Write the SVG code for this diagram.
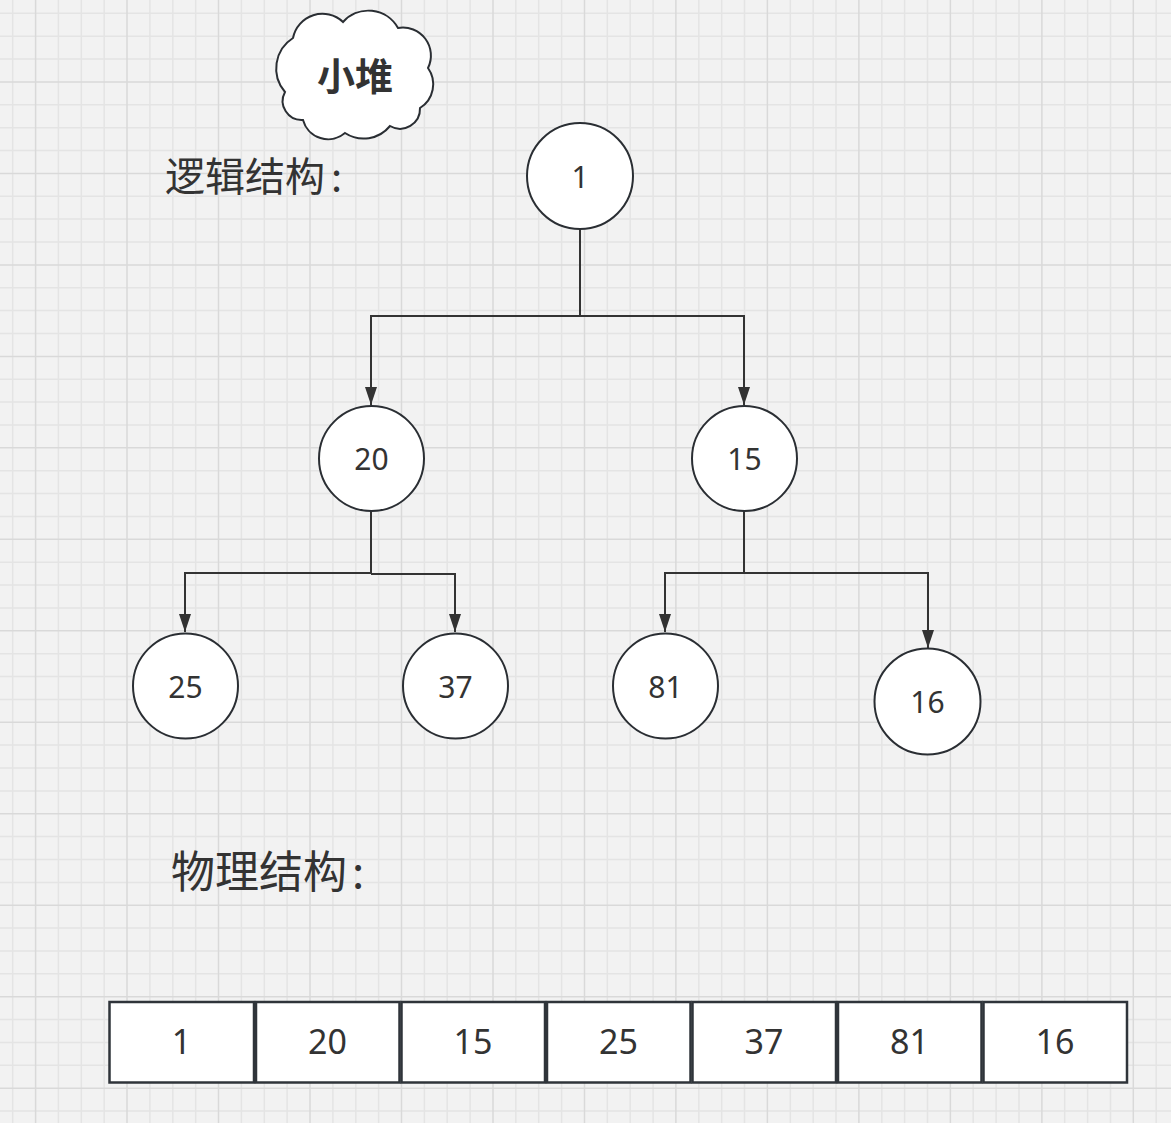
<svg xmlns="http://www.w3.org/2000/svg" width="1171" height="1123" viewBox="0 0 1171 1123">
<defs>
<style>
.bg{fill:#f2f2f2}
.gmin{stroke:#e4e4e4;stroke-width:1.5;fill:none}
.gmaj{stroke:#d9d9d9;stroke-width:1.5;fill:none}
.node circle{fill:#ffffff;stroke:#2a2e33;stroke-width:2}
.cell rect{fill:#ffffff;stroke:#2f343a;stroke-width:2.5}
.num{font-family:"Noto Sans","Noto Sans CJK SC",sans-serif;fill:#333333;text-anchor:middle}
.lbl{font-family:"Noto Sans CJK SC","Noto Sans",sans-serif;fill:#333333}
.edge{fill:none;stroke:#333333;stroke-width:2;marker-end:url(#arr)}
.seg{fill:none;stroke:#333333;stroke-width:2}
</style>
<marker id="arr" markerUnits="userSpaceOnUse" markerWidth="20" markerHeight="14" refX="18" refY="6" orient="auto">
<path d="M0,0 L18,6 L0,12 Z" fill="#333333"/>
</marker>
</defs>
<rect class="bg" x="0" y="0" width="1171" height="1123"/>
<g id="grid">
<path class="gmin" d="M12.7 0V1123M58.4 0V1123M81.3 0V1123M104.2 0V1123M149.9 0V1123M172.8 0V1123M195.7 0V1123M241.4 0V1123M264.3 0V1123M287.1 0V1123M332.9 0V1123M355.8 0V1123M378.6 0V1123M424.4 0V1123M447.2 0V1123M470.1 0V1123M515.8 0V1123M538.7 0V1123M561.6 0V1123M607.3 0V1123M630.2 0V1123M653.1 0V1123M698.8 0V1123M721.7 0V1123M744.5 0V1123M790.3 0V1123M813.2 0V1123M836 0V1123M881.8 0V1123M904.6 0V1123M927.5 0V1123M973.2 0V1123M996.1 0V1123M1019 0V1123M1064.7 0V1123M1087.6 0V1123M1110.5 0V1123M1156.2 0V1123M0 13.3H1171M0 36.2H1171M0 59H1171M0 104.8H1171M0 127.7H1171M0 150.5H1171M0 196.3H1171M0 219.1H1171M0 242H1171M0 287.7H1171M0 310.6H1171M0 333.5H1171M0 379.2H1171M0 402.1H1171M0 425H1171M0 470.7H1171M0 493.6H1171M0 516.4H1171M0 562.2H1171M0 585H1171M0 607.9H1171M0 653.7H1171M0 676.5H1171M0 699.4H1171M0 745.1H1171M0 768H1171M0 790.9H1171M0 836.6H1171M0 859.5H1171M0 882.4H1171M0 928.1H1171M0 951H1171M0 973.8H1171M0 1019.6H1171M0 1042.5H1171M0 1065.3H1171M0 1111.1H1171"/>
<path class="gmaj" d="M35.6 0V1123M127 0V1123M218.5 0V1123M310 0V1123M401.5 0V1123M493 0V1123M584.5 0V1123M675.9 0V1123M767.4 0V1123M858.9 0V1123M950.4 0V1123M1041.9 0V1123M1133.3 0V1123M0 81.9H1171M0 173.4H1171M0 264.9H1171M0 356.4H1171M0 447.8H1171M0 539.3H1171M0 630.8H1171M0 722.3H1171M0 813.8H1171M0 905.2H1171M0 996.7H1171M0 1088.2H1171"/>
</g>
<g id="title-cloud">
<path d="M293,38 A30,30 0 0 1 343,22 A34,34 0 0 1 398,28 A28,28 0 0 1 428,68 A28,28 0 0 1 420,108 A20,20 0 0 1 390,126 A34,34 0 0 1 345,133 A26,26 0 0 1 303,120 A19,19 0 0 1 285,92 A36,36 0 0 1 293,38 Z" fill="#ffffff" stroke="#2a2e33" stroke-width="2"/>
<text class="lbl" x="355" y="90" font-size="38" font-weight="700" text-anchor="middle">小堆</text>
</g>
<g id="label-logic">
<text class="lbl" x="165" y="191" font-size="40">逻辑结构<tspan dx="6">:</tspan></text>
</g>
<g id="label-physical">
<text class="lbl" x="171" y="888" font-size="44">物理结构<tspan dx="5">:</tspan></text>
</g>
<g id="connectors">
<path class="edge" d="M580,229 V316 H371 V405"/>
<path class="edge" d="M580,316 H744 V405"/>
<path class="edge" d="M371,511 V573 H185 V632"/>
<path class="edge" d="M371,574 H455 V632"/>
<path class="edge" d="M744,511 V573 H665 V632"/>
<path class="edge" d="M744,573 H928 V648"/>
</g>
<g id="node-1" class="node"><circle cx="580" cy="176" r="53"/><text class="num" x="580" y="188" font-size="30">1</text></g>
<g id="node-20" class="node"><circle cx="371.5" cy="458.5" r="52.5"/><text class="num" x="371.5" y="470" font-size="30">20</text></g>
<g id="node-15" class="node"><circle cx="744.5" cy="458.5" r="52.5"/><text class="num" x="744.5" y="470" font-size="30">15</text></g>
<g id="node-25" class="node"><circle cx="185.5" cy="686" r="52.5"/><text class="num" x="185.5" y="697.5" font-size="30">25</text></g>
<g id="node-37" class="node"><circle cx="455.5" cy="686" r="52.5"/><text class="num" x="455.5" y="697.5" font-size="30">37</text></g>
<g id="node-81" class="node"><circle cx="665.5" cy="686" r="52.5"/><text class="num" x="665.5" y="697.5" font-size="30">81</text></g>
<g id="node-16" class="node"><circle cx="927.5" cy="701.5" r="53"/><text class="num" x="927.5" y="713" font-size="30">16</text></g>
<g id="array">
<g id="cell-0" class="cell"><rect x="109.5" y="1002" width="144.5" height="80.5"/><text class="num" x="181.5" y="1054" font-size="34">1</text></g>
<g id="cell-1" class="cell"><rect x="256" y="1002" width="143.5" height="80.5"/><text class="num" x="327.5" y="1054" font-size="34">20</text></g>
<g id="cell-2" class="cell"><rect x="401.5" y="1002" width="143.5" height="80.5"/><text class="num" x="473" y="1054" font-size="34">15</text></g>
<g id="cell-3" class="cell"><rect x="547" y="1002" width="143.5" height="80.5"/><text class="num" x="618.5" y="1054" font-size="34">25</text></g>
<g id="cell-4" class="cell"><rect x="692.5" y="1002" width="143.5" height="80.5"/><text class="num" x="764" y="1054" font-size="34">37</text></g>
<g id="cell-5" class="cell"><rect x="838" y="1002" width="143.5" height="80.5"/><text class="num" x="909.5" y="1054" font-size="34">81</text></g>
<g id="cell-6" class="cell"><rect x="983.5" y="1002" width="143.5" height="80.5"/><text class="num" x="1055" y="1054" font-size="34">16</text></g>
</g>
</svg>
